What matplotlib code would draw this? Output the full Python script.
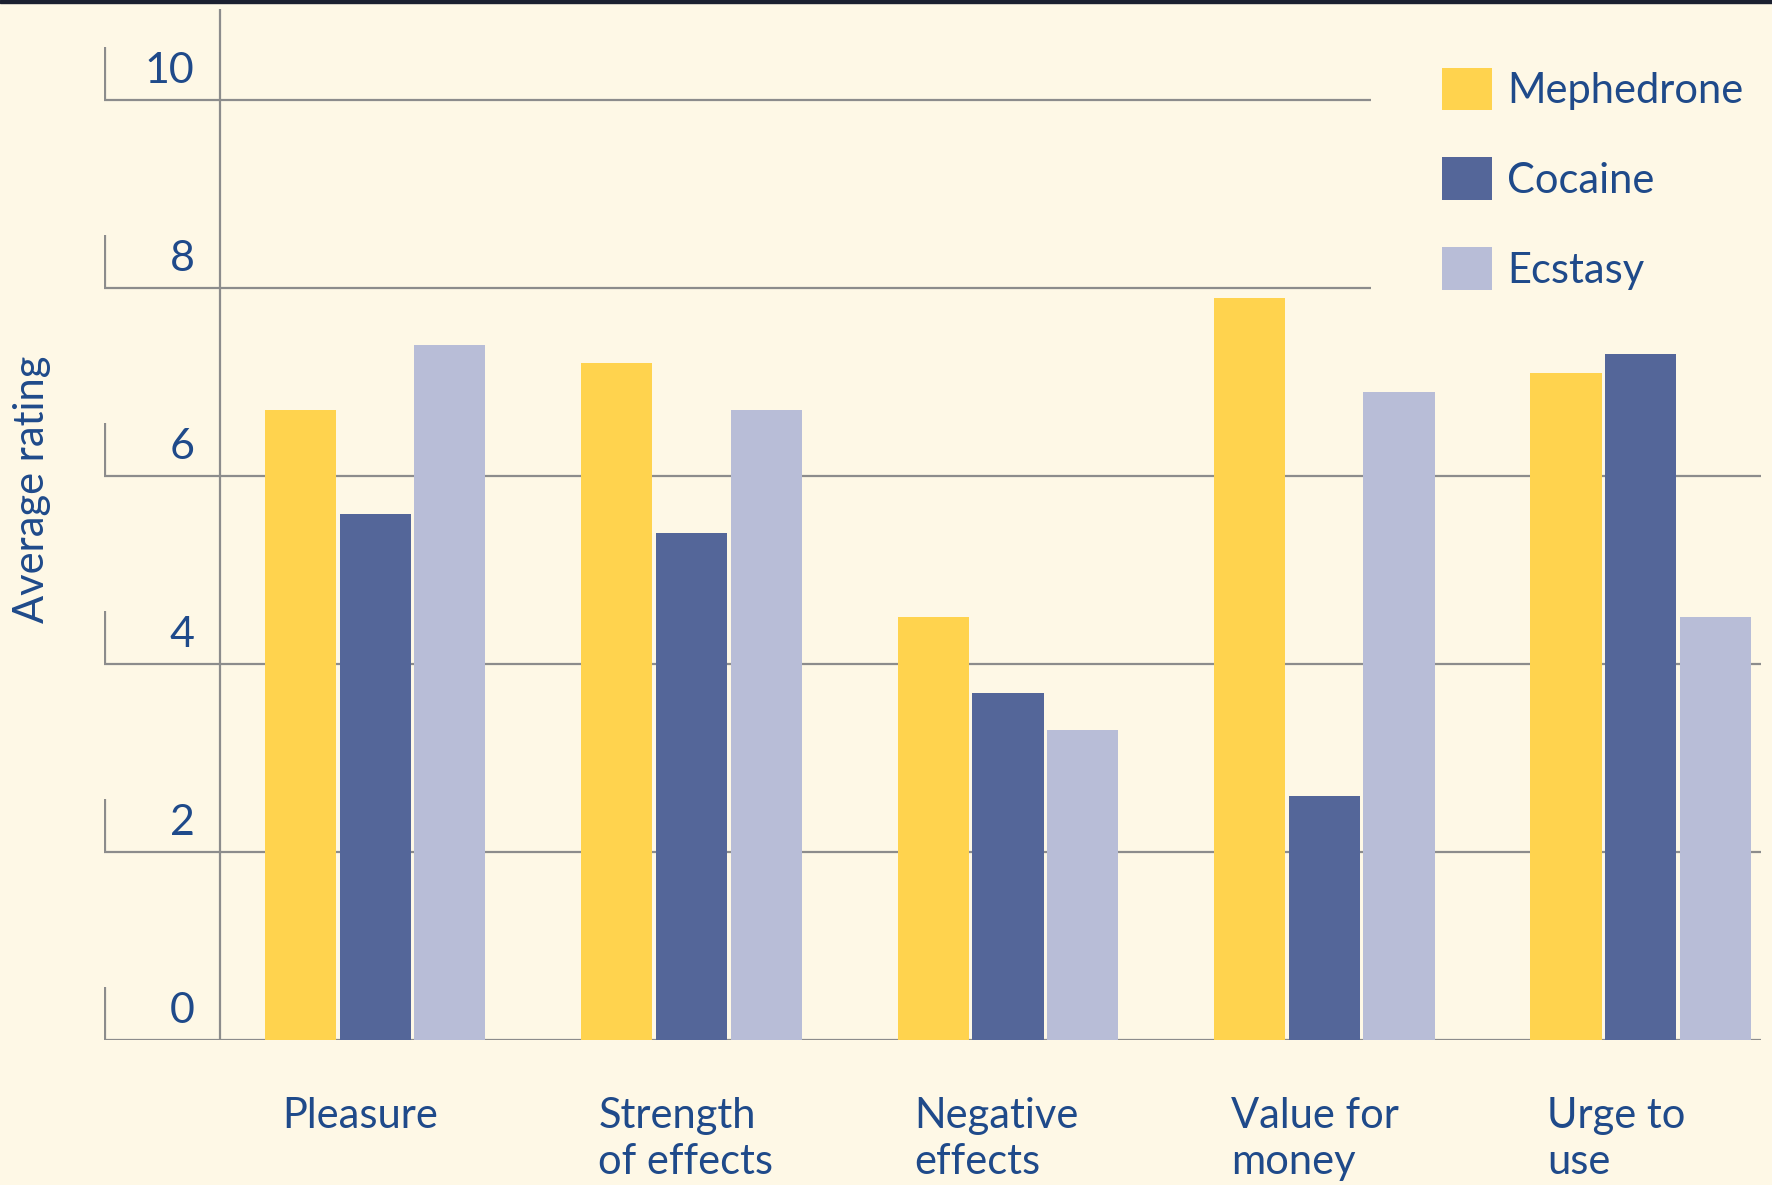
import matplotlib
matplotlib.use("Agg")
import matplotlib.pyplot as plt
import numpy as np
from matplotlib.patches import Patch, Rectangle

plt.rcParams['font.family'] = ['Lato', 'DejaVu Sans']

# data
categories = ['Pleasure', 'Strength\nof effects', 'Negative\neffects', 'Value for\nmoney', 'Urge to\nuse']
drugs = ['Mephedrone', 'Cocaine', 'Ecstasy']
mephedrone = [6.7, 7.2, 4.5, 7.9, 7.1]
cocaine = [5.6, 5.4, 3.7, 2.6, 7.3]
ecstasy = [7.4, 6.7, 3.3, 6.9, 4.5]
yticks = [0, 2, 4, 6, 8, 10]

colors = ['#FFD34E', '#546699', '#B8BDD7']
bg = '#FEF8E6'
grid_c = '#8c8c8c'
text_c = '#1f4a8a'

fig = plt.figure(figsize=(17.72, 11.85), dpi=100, facecolor=bg)
ax = fig.add_axes([0.0587, 0.122, 0.9349, 0.8704])
ax.set_facecolor(bg)

x = np.arange(len(categories))
step = 0.236
width = 0.225
series = [mephedrone, cocaine, ecstasy]
for k, vals in enumerate(series):
    ax.bar(x + (k - 1) * step, vals, width, color=colors[k], zorder=3, label=drugs[k])

xleft, xright = -0.857, 4.379
ax.set_xlim(xleft, xright)
ax.set_ylim(0, 10.97)

# gridlines, the top two stop short of the legend
for t in yticks:
    xend = 3.146 if t >= 8 else xright
    ax.hlines(t, xleft, xend, color=grid_c, lw=1.6, zorder=1)
    ax.vlines(xleft + 0.004, t, t + 0.57, color=grid_c, lw=1.6, zorder=1)
    ax.text(-0.571, t + 0.31, str(t), ha='right', va='center', fontsize=31, color=text_c)

# the y axis line
ax.vlines(-0.489, 0, 10.97, color=grid_c, lw=1.6, zorder=1)

for s in ax.spines.values():
    s.set_visible(False)
ax.set_xticks([])
ax.set_yticks([])

for i, c in enumerate(categories):
    ax.text(i - 0.295, -0.6, c, ha='left', va='top', fontsize=30, color=text_c,
            linespacing=1.25, clip_on=False)

fig.text(0.0178, 0.587, 'Average rating', rotation=90, ha='center', va='center',
         fontsize=30, color=text_c)

handles = [Patch(facecolor=colors[k], edgecolor='none') for k in range(3)]
leg = fig.legend(handles, drugs, loc='upper left', bbox_to_anchor=(0.8135, 0.943),
                 frameon=False, fontsize=30, handlelength=1.2, handleheight=1.2,
                 handletextpad=0.38, labelspacing=1.13, borderpad=0, borderaxespad=0)
for t in leg.get_texts():
    t.set_color(text_c)

# dark strip on the top edge of the original
fig.add_artist(Rectangle((0, 0.9975), 1, 0.0025, transform=fig.transFigure,
                         color='#1b2030', zorder=10))

fig.savefig('out.png', dpi=100, facecolor=bg)
